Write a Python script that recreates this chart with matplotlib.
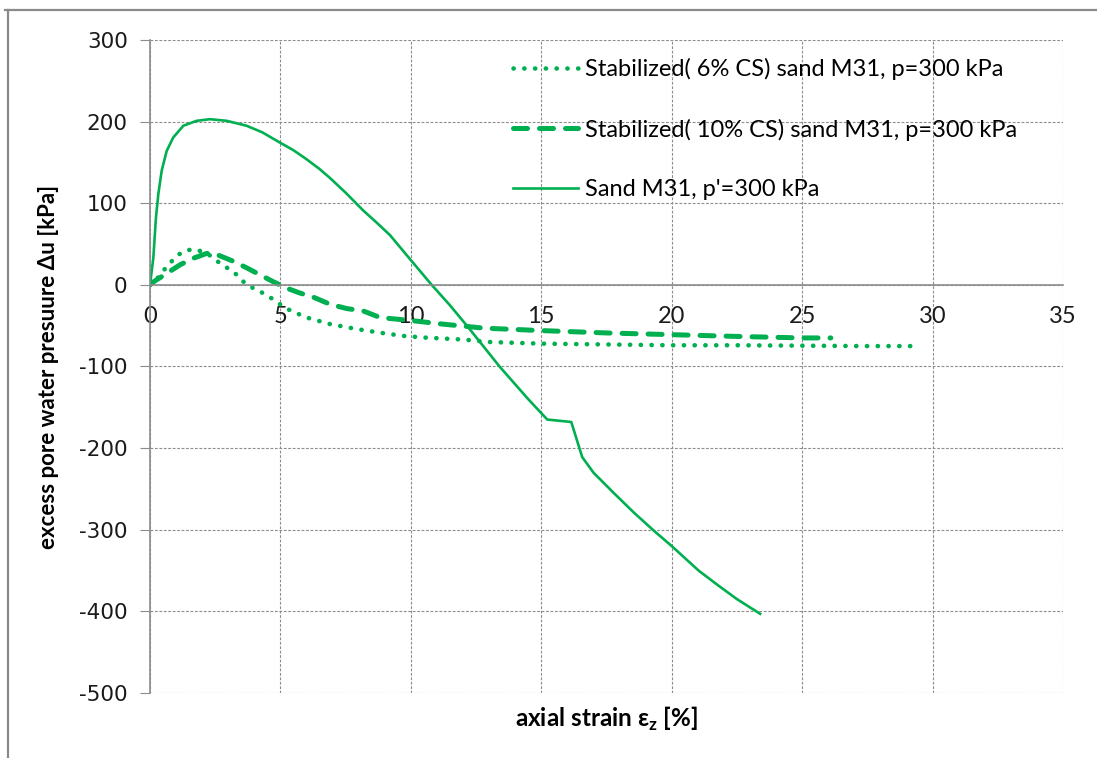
import matplotlib
matplotlib.use("Agg")
import matplotlib.pyplot as plt
from matplotlib.lines import Line2D

# excess pore water pressure vs axial strain
strain_6cs = [0, 0.19, 0.5, 0.77, 1.0, 1.34, 1.66, 2.0, 2.36, 2.68, 3.0, 3.32,
              3.58, 3.9, 4.22, 4.53, 4.85, 5.1, 5.5, 6.0, 6.9, 7.9, 8.8, 9.7,
              10.5, 12.0, 13.0, 15.0, 17.5, 20.0, 22.5, 25.0, 27.5, 29.5]
du_6cs = [0, 4, 17, 26.5, 35, 42, 43.5, 41, 35, 26.5, 20, 12.6,
          4, -3, -8, -14, -20, -27, -33, -40, -48, -54, -58.5, -62.5,
          -64.5, -67, -70, -72, -73, -74, -74, -74.5, -75, -75]

strain_10cs = [0, 0.15, 0.64, 1.15, 1.66, 2.17, 2.5, 3.19, 3.7, 4.2, 4.72,
               5.24, 5.75, 6.26, 6.9, 7.54, 8.18, 8.82, 9.46, 10.1, 11.2,
               12.8, 15.0, 17.6, 20.0, 22.3, 25.0, 26.1]
du_10cs = [0, 4, 14, 24.5, 32.6, 38.5, 38, 29, 21, 12.6, 4,
           -4, -10, -15, -23.7, -29, -32, -40, -42, -44, -48,
           -53, -56, -59, -61, -63, -65, -65]

strain_sand = [0, 0.06, 0.13, 0.23, 0.32, 0.45, 0.64, 0.89, 1.28, 1.79, 2.3,
               2.94, 3.7, 4.3, 5.0, 5.5, 6.0, 6.5, 6.9, 7.5, 8.18, 8.7, 9.2,
               9.97, 10.8, 11.5, 12.2, 13.4, 14.5, 15.23, 16.15, 16.57, 17.0,
               17.78, 18.55, 19.31, 20.0, 21.03, 21.73, 22.5, 23.39]
du_sand = [0, 15, 33.5, 82.5, 111, 140, 164, 180.5, 195, 201, 203,
           201, 195, 187, 174, 165, 154, 142, 131, 113, 91, 76, 61,
           31.5, 0, -25, -52, -100, -140, -165, -168, -211, -230,
           -255, -279, -301, -320, -350, -367, -385, -403]

labels = ["Stabilized( 6% CS) sand M31, p=300 kPa",
          "Stabilized( 10% CS) sand M31, p=300 kPa",
          "Sand M31, p'=300 kPa"]

xticks = list(range(0, 36, 5))
yticks = list(range(-500, 301, 100))

green = "#00B050"
grid_grey = "#8c8c8c"

plt.rcParams["axes.unicode_minus"] = False


def main():
    fig = plt.figure(figsize=(10.97, 7.58), dpi=100)
    ax = fig.add_axes([0.1367, 0.0858, 0.8323, 0.8614])

    ax.plot(strain_6cs, du_6cs, color=green, lw=3.3,
            linestyle=(0, (0.05, 2.3)), dash_capstyle="round", label=labels[0])
    ax.plot(strain_10cs, du_10cs, color=green, lw=3.6,
            linestyle=(0, (2.8, 2.4)), dash_capstyle="round", label=labels[1])
    ax.plot(strain_sand, du_sand, color=green, lw=1.9, label=labels[2])

    ax.set_xlim(0, 35)
    ax.set_ylim(-500, 300)
    ax.set_xticks(xticks)
    ax.set_yticks(yticks)

    ax.grid(True, color=grid_grey, lw=0.8, linestyle=(0, (2.5, 1.5)))
    ax.set_axisbelow(True)

    for side in ("top", "right"):
        ax.spines[side].set_visible(False)
    ax.spines["bottom"].set_position(("data", 0))
    ax.spines["bottom"].set_color(grid_grey)
    ax.spines["bottom"].set_linewidth(1.2)
    ax.spines["left"].set_color(grid_grey)
    ax.spines["left"].set_linewidth(1.2)

    ax.tick_params(axis="y", direction="out", length=7, color=grid_grey,
                   pad=9, labelsize=15.5, labelcolor="#1a1a1a")
    ax.tick_params(axis="x", length=0, pad=15, labelsize=17, labelcolor="#1a1a1a")
    for lab in ax.get_xticklabels():
        lab.set_family("Lato")
    for lab in ax.get_yticklabels():
        lab.set_family("DejaVu Sans")

    ax.set_xlabel("axial strain ε$_\\mathregular{z}$ [%]", fontsize=17.5,
                  fontweight="bold", family="Lato")
    ax.xaxis.set_label_coords(0.5, -0.018)
    ax.set_ylabel("excess pore water presuure Δu [kPa]", fontsize=16,
                  fontweight="bold", family="Lato")
    ax.yaxis.set_label_coords(-0.1, 0.5)

    ax.legend(loc="upper left", bbox_to_anchor=(0.3976, 0.972), frameon=False,
              borderpad=0, borderaxespad=0, handlelength=2.75,
              handletextpad=0.3, labelspacing=1.62,
              prop={"family": "Lato", "size": 17})

    # outer frame of the chart area
    fig.add_artist(Line2D([0.005, 1.0], [0.987, 0.987], color="#8a8a8a",
                          lw=1.6, transform=fig.transFigure))
    fig.add_artist(Line2D([0.0073, 0.0073], [0.0, 0.987], color="#8a8a8a",
                          lw=1.6, transform=fig.transFigure))

    fig.savefig("out.png", dpi=100)


if __name__ == "__main__":
    main()
